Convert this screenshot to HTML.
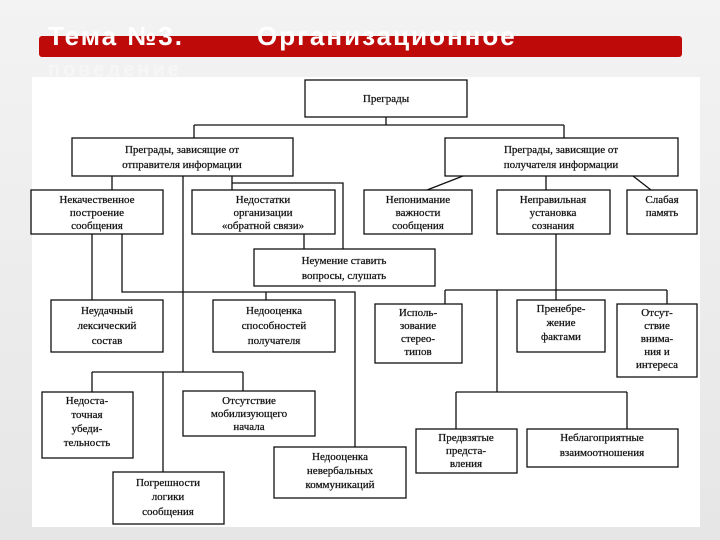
<!DOCTYPE html>
<html><head><meta charset="utf-8"><style>
html,body{margin:0;padding:0;width:720px;height:540px;overflow:hidden;background:#ededed}
svg{display:block}
text{font-family:"Liberation Serif",serif;font-size:11px;fill:#111;text-anchor:middle;stroke:#111;stroke-width:0.25}
.h{font-family:"Liberation Sans",sans-serif;font-size:26px;font-weight:bold;fill:#fff;stroke:none;text-anchor:start;letter-spacing:2px}
</style></head><body>
<svg width="720" height="540" xmlns="http://www.w3.org/2000/svg">
<defs><linearGradient id="bg" x1="0" y1="0" x2="0" y2="1"><stop offset="0" stop-color="#f3f3f3"/><stop offset="1" stop-color="#e6e6e6"/></linearGradient></defs>
<rect width="720" height="540" fill="url(#bg)"/>
<rect x="39" y="36" width="643" height="21" rx="3" fill="#bf0a0a"/>
<text class="h" x="48" y="45">Тема №3.</text><text class="h" x="257" y="45">Организационное</text>
<text class="h" x="48" y="76" style="fill:#f6f6f6;font-size:20px;letter-spacing:3px">поведение</text>
<rect x="32" y="77" width="668" height="450" fill="#fff"/>
<g fill="none" stroke="#111" stroke-width="1.3">
<rect x="305" y="80" width="162" height="37"/>
<rect x="72" y="138" width="221" height="38"/>
<rect x="445" y="138" width="233" height="38"/>
<rect x="31" y="190" width="132" height="44"/>
<rect x="192" y="190" width="143" height="44"/>
<rect x="364" y="190" width="108" height="44"/>
<rect x="497" y="190" width="113" height="44"/>
<rect x="627" y="190" width="70" height="44"/>
<rect x="254" y="249" width="181" height="37"/>
<rect x="51" y="300" width="112" height="52"/>
<rect x="213" y="300" width="122" height="52"/>
<rect x="375" y="304" width="87" height="59"/>
<rect x="517" y="300" width="88" height="52"/>
<rect x="617" y="304" width="80" height="73"/>
<rect x="42" y="392" width="91" height="66"/>
<rect x="183" y="391" width="132" height="45"/>
<rect x="274" y="447" width="132" height="51"/>
<rect x="416" y="429" width="101" height="44"/>
<rect x="527" y="429" width="151" height="38"/>
<rect x="113" y="472" width="111" height="52"/>
<path d="M386 117V125M194 125H564M194 125V138M564 125V138"/>
<path d="M112 176V190M183 176V372M232 176V190M232 183H343V249M304 234V249"/>
<path d="M92 234V300M122 234V292H355V447M266 292V300"/>
<path d="M92 372H243M92 372V392M163 372V472M243 372V391"/>
<path d="M463 176L427 190M546 176V190M633 176L651 190"/>
<path d="M556 234V300M445 290H667M445 290V304M667 290V304M497 290V392M456 392H627M456 392V429M627 392V429"/>
</g>
<text x="386" y="102">Преграды</text>
<text x="182" y="153">Преграды, зависящие от</text><text x="182" y="168">отправителя информации</text>
<text x="561" y="153">Преграды, зависящие от</text><text x="561" y="168">получателя информации</text>
<text x="97" y="203">Некачественное</text><text x="97" y="216">построение</text><text x="97" y="229">сообщения</text>
<text x="263" y="203">Недостатки</text><text x="263" y="216">организации</text><text x="263" y="229">«обратной связи»</text>
<text x="418" y="203">Непонимание</text><text x="418" y="216">важности</text><text x="418" y="229">сообщения</text>
<text x="553" y="203">Неправильная</text><text x="553" y="216">установка</text><text x="553" y="229">сознания</text>
<text x="662" y="203">Слабая</text><text x="662" y="216">память</text>
<text x="344" y="264">Неумение ставить</text><text x="344" y="279">вопросы, слушать</text>
<text x="107" y="314">Неудачный</text><text x="107" y="329">лексический</text><text x="107" y="344">состав</text>
<text x="274" y="314">Недооценка</text><text x="274" y="329">способностей</text><text x="274" y="344">получателя</text>
<text x="418" y="316">Исполь-</text><text x="418" y="329">зование</text><text x="418" y="342">стерео-</text><text x="418" y="355">типов</text>
<text x="561" y="312">Пренебре-</text><text x="561" y="326">жение</text><text x="561" y="340">фактами</text>
<text x="657" y="316">Отсут-</text><text x="657" y="329">ствие</text><text x="657" y="342">внима-</text><text x="657" y="355">ния и</text><text x="657" y="368">интереса</text>
<text x="87" y="404">Недоста-</text><text x="87" y="418">точная</text><text x="87" y="432">убеди-</text><text x="87" y="446">тельность</text>
<text x="249" y="404">Отсутствие</text><text x="249" y="417">мобилизующего</text><text x="249" y="430">начала</text>
<text x="340" y="460">Недооценка</text><text x="340" y="474">невербальных</text><text x="340" y="488">коммуникаций</text>
<text x="466" y="441">Предвзятые</text><text x="466" y="454">предста-</text><text x="466" y="467">вления</text>
<text x="602" y="441">Неблагоприятные</text><text x="602" y="456">взаимоотношения</text>
<text x="168" y="486">Погрешности</text><text x="168" y="500">логики</text><text x="168" y="515">сообщения</text>
</svg>
</body></html>
